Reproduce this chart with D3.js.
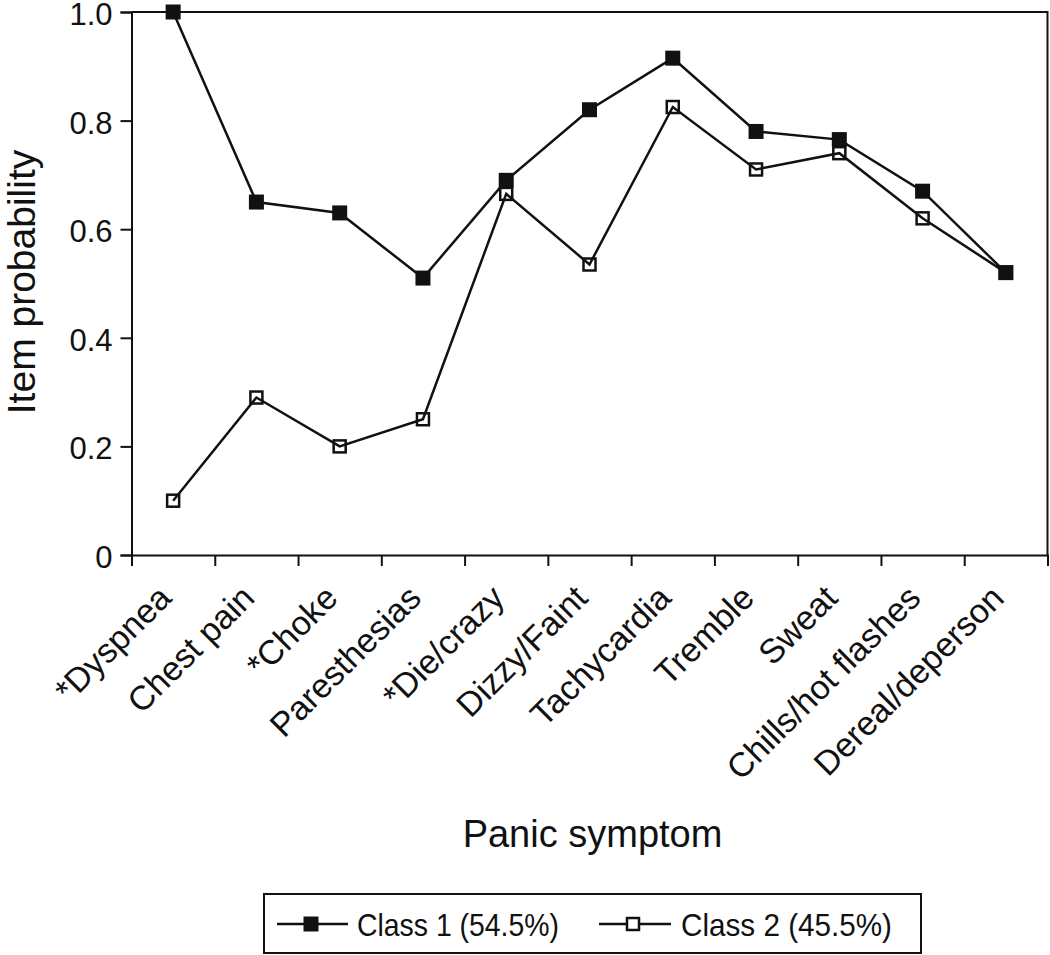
<!DOCTYPE html>
<html>
<head>
<meta charset="utf-8">
<script src="https://cdn.jsdelivr.net/npm/d3@7"></script>
<style>
  html, body { margin: 0; padding: 0; background: #fff; }
  svg { display: block; }
  text { fill: #111; }
</style>
</head>
<body>
<svg id="chart" width="1050" height="955"></svg>
<script>
const categories = ["*Dyspnea", "Chest pain", "*Choke", "Paresthesias", "*Die/crazy",
  "Dizzy/Faint", "Tachycardia", "Tremble", "Sweat", "Chills/hot flashes", "Dereal/deperson"];
const class1 = [1.00, 0.65, 0.63, 0.51, 0.69, 0.82, 0.915, 0.78, 0.765, 0.67, 0.52];
const class2 = [0.10, 0.29, 0.20, 0.25, 0.665, 0.535, 0.825, 0.71, 0.74, 0.62, 0.52];
const yTicks = [0, 0.2, 0.4, 0.6, 0.8, 1.0];
const seriesNames = ["Class 1 (54.5%)", "Class 2 (45.5%)"];

const svg = d3.select("#chart");
const L = 131.5, R = 1047.5, T = 12, B = 555;
const ink = "#111";
const sans = "'Liberation Sans', Arial, Helvetica, sans-serif";

const x = d3.scaleBand().domain(categories).range([L, R]).padding(0);
const xc = d => x(d) + x.bandwidth() / 2;
const y = d3.scaleLinear().domain([0, 1]).range([B, T]);

// frame (top and right)
svg.append("path")
  .attr("d", `M${L},${y(1)}H${R}V${B}`)
  .attr("fill", "none").attr("stroke", ink).attr("stroke-width", 2);

// y axis
const yAxis = svg.append("g").attr("transform", `translate(${L},0)`)
  .call(d3.axisLeft(y).tickValues(yTicks).tickSize(11).tickPadding(8)
    .tickFormat(d => d === 0 ? "0" : d3.format(".1f")(d)));
yAxis.select(".domain").attr("stroke", ink).attr("stroke-width", 2);
yAxis.selectAll(".tick line").attr("stroke", ink).attr("stroke-width", 2);
yAxis.selectAll(".tick text").attr("font-family", sans).attr("font-size", 31).attr("fill", ink)
  .attr("dy", "0.4em");

// x axis (ticks at category boundaries)
const xb = d3.scaleLinear().domain([0, categories.length]).range([L, R]);
const xAxis = svg.append("g").attr("transform", `translate(0,${B})`)
  .call(d3.axisBottom(xb).tickValues(d3.range(0, categories.length + 1)).tickSize(11).tickFormat(""));
xAxis.select(".domain").attr("stroke", ink).attr("stroke-width", 2);
xAxis.selectAll(".tick line").attr("stroke", ink).attr("stroke-width", 2);

// x labels
svg.append("g").selectAll("text").data(categories).join("text")
  .attr("transform", d => `translate(${xc(d)},${B + 45}) rotate(-45)`)
  .attr("text-anchor", "end")
  .attr("font-family", sans).attr("font-size", 34)
  .text(d => d);

// axis titles
svg.append("text")
  .attr("x", (L + R) / 2 + 3).attr("y", 847)
  .attr("text-anchor", "middle")
  .attr("font-family", sans).attr("font-size", 38)
  .text("Panic symptom");
svg.append("text")
  .attr("transform", `translate(35,${282}) rotate(-90)`)
  .attr("text-anchor", "middle")
  .attr("font-family", sans).attr("font-size", 39)
  .text("Item probability");

const line = d3.line().x((d, i) => xc(categories[i])).y(d => y(d));

// class 2 (open squares)
svg.append("path").datum(class2).attr("d", line)
  .attr("fill", "none").attr("stroke", ink).attr("stroke-width", 2.5);
svg.append("g").selectAll("rect").data(class2).join("rect")
  .attr("x", (d, i) => xc(categories[i]) - 6).attr("y", d => y(d) - 6)
  .attr("width", 12).attr("height", 12)
  .attr("fill", "none").attr("stroke", ink).attr("stroke-width", 2.5);

// class 1 (filled squares)
svg.append("path").datum(class1).attr("d", line)
  .attr("fill", "none").attr("stroke", ink).attr("stroke-width", 2.5);
svg.append("g").selectAll("rect").data(class1).join("rect")
  .attr("x", (d, i) => xc(categories[i]) - 7.5).attr("y", d => y(d) - 7.5)
  .attr("width", 15).attr("height", 15)
  .attr("fill", ink);

// legend
const lg = svg.append("g");
lg.append("rect").attr("x", 264).attr("y", 894).attr("width", 657).attr("height", 59)
  .attr("fill", "none").attr("stroke", ink).attr("stroke-width", 2);
const ly = 924;
const items = [
  { x0: 277, x1: 348, m: 311, filled: true, tx: 357, w: 202, name: seriesNames[0] },
  { x0: 599, x1: 671, m: 633, filled: false, tx: 681, w: 211, name: seriesNames[1] }
];
items.forEach(it => {
  lg.append("line").attr("x1", it.x0).attr("x2", it.x1).attr("y1", ly).attr("y2", ly)
    .attr("stroke", ink).attr("stroke-width", 2.5);
  if (it.filled) {
    lg.append("rect").attr("x", it.m - 7.5).attr("y", ly - 7.5).attr("width", 15).attr("height", 15).attr("fill", ink);
  } else {
    lg.append("rect").attr("x", it.m - 6).attr("y", ly - 6).attr("width", 12).attr("height", 12)
      .attr("fill", "#fff").attr("stroke", ink).attr("stroke-width", 2.5);
  }
  lg.append("text").attr("x", it.tx).attr("y", ly + 12)
    .attr("font-family", sans).attr("font-size", 32)
    .attr("textLength", it.w).attr("lengthAdjust", "spacingAndGlyphs")
    .text(it.name);
});
</script>
</body>
</html>
